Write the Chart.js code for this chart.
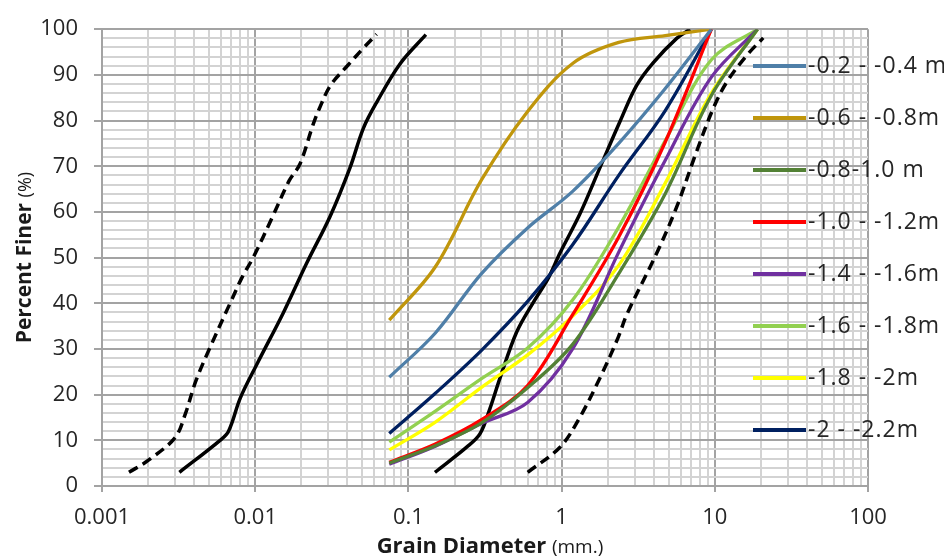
<!DOCTYPE html>
<html>
<head>
<meta charset="utf-8">
<script src="https://cdn.jsdelivr.net/npm/chart.js@4.4.1/dist/chart.umd.min.js"></script>
<style>
    html, body { margin: 0; padding: 0; background: #fff; }
</style>
</head>
<body>
<canvas id="grading" width="944" height="558"></canvas>
<script>
// sieve openings (mm) used by the coloured grading curves
const sieveSizes = [0.075, 0.15, 0.3, 0.6, 1.18, 2.36, 4.75, 9.5, 19];

// percent finer per depth at each sieve
const p02 = [23.8, 33.5, 46.5, 56.5, 64.5, 75, 87, 100];
const p06 = [36.3, 48, 67, 82, 92.5, 97.1, 98.6, 100];
const p08 = [5, 8.8, 13.8, 21.5, 31, 46.5, 64, 85.5, 100];
const p10 = [5.2, 9.2, 14.5, 22, 37.5, 54.5, 75.3, 100];
const p14 = [4.75, 8.7, 13.7, 18.3, 30, 51.2, 71.3, 89.5, 100];
const p16 = [9.6, 16.4, 23.5, 30.2, 40.7, 56.7, 75.6, 93.3, 100];
const p18 = [7.9, 14, 21.6, 28.7, 37.2, 48.3, 66.3, 86, 100];
const p20 = [11.5, 20.3, 29.7, 40.4, 52.8, 68, 82.2, 100];

// black limit curves (diameter mm, percent finer)
const dFineDash  = [0.0015, 0.002, 0.003, 0.0035, 0.0041, 0.0051, 0.0069, 0.0083, 0.0097, 0.013, 0.0167, 0.0196, 0.0238, 0.0262, 0.031, 0.040, 0.050, 0.062];
const pFineDash  = [3, 5.6, 10.6, 15.8, 23, 30.5, 40.2, 46, 50, 59, 66.9, 70.5, 79, 82.6, 87.7, 92, 95.6, 98.9];
const dFineSolid = [0.0032, 0.0059, 0.0067, 0.008, 0.0102, 0.0153, 0.0217, 0.0308, 0.0416, 0.0508, 0.0621, 0.0881, 0.13];
const pFineSolid = [3, 10, 12, 19.3, 26.5, 38, 48.8, 59, 69.7, 78.3, 84, 92.4, 98.8];
const dMidSolid  = [0.149, 0.24, 0.293, 0.341, 0.396, 0.509, 0.654, 0.819, 0.976, 1.318, 1.78, 2.405, 3.09, 3.97, 5.64, 6.9];
const pMidSolid  = [3, 8.5, 11.4, 17, 23.6, 33.7, 40.2, 45.5, 51, 59.6, 69.7, 79.8, 87.7, 92.7, 98, 100];
const dCoarseDash = [0.601, 0.976, 1.29, 1.8, 2.345, 2.66, 4.18, 5.64, 7.62, 9.78, 11.96, 16.1, 20.7];
const pCoarseDash = [3, 8.5, 14.5, 24, 32.6, 37.5, 51, 61.1, 73.3, 82.7, 88.4, 94.2, 98.1];

const depthLabels = ["-0.2 - -0.4 m", "-0.6 - -0.8m", "-0.8-1.0 m", "-1.0 - -1.2m",
                     "-1.4 - -1.6m", "-1.6 - -1.8m", "-1.8 - -2m", "-2 - -2.2m"];
const depthColors = ["#4f7fa8", "#c0960c", "#538135", "#ff0000",
                     "#7030a0", "#92d050", "#ffff00", "#002060"];
const depthP = [p02, p06, p08, p10, p14, p16, p18, p20];

const xDecades = [0.001, 0.01, 0.1, 1, 10, 100];
const xTickLabels = ["0.001", "0.01", "0.1", "1", "10", "100"];
const yMajorTicks = [0, 10, 20, 30, 40, 50, 60, 70, 80, 90, 100];

const FONT = "'Open Sans', 'DejaVu Sans', sans-serif";
const MAJOR_GRID = "#a3a3a3";
const MINOR_GRID = "#d3d3d3";

function toPoints(ds, ps)
{
    return ps.map(function(p, i) { return {x: ds[i], y: p}; });
}

function isDecade(v)
{
    return xDecades.some(function(d) { return Math.abs(d - v) / d < 1e-6; });
}

let datasets = [];
depthLabels.forEach(function(label, i) {
    datasets.push({
        label: label,
        data: toPoints(sieveSizes, depthP[i]),
        borderColor: depthColors[i],
        borderWidth: 3.3,
        tension: 0.35,
        inLegend: true
    });
});
[[dFineDash, pFineDash, true], [dFineSolid, pFineSolid, false],
 [dMidSolid, pMidSolid, false], [dCoarseDash, pCoarseDash, true]].forEach(function(s, i) {
    datasets.push({
        label: "envelope" + i,
        data: toPoints(s[0], s[1]),
        borderColor: "#000000",
        borderWidth: 3.5,
        borderDash: s[2] ? [10, 6] : [],
        tension: 0.35,
        inLegend: false
    });
});

// legend and axis titles drawn by hand so they sit where the original has them
const decorations = {
    id: "decorations",
    afterDraw(chart)
    {
        let ctx = chart.ctx;
        ctx.save();

        let legendItems = chart.data.datasets.filter(function(d) { return d.inLegend; });
        legendItems.forEach(function(d, i) {
            let y = 66 + i * 52;
            ctx.strokeStyle = d.borderColor;
            ctx.lineWidth = 4;
            ctx.beginPath();
            ctx.moveTo(753, y);
            ctx.lineTo(806, y);
            ctx.stroke();
            ctx.fillStyle = "#262626";
            ctx.font = "23px " + FONT;
            ctx.letterSpacing = "1px";
            ctx.textAlign = "left";
            ctx.textBaseline = "middle";
            ctx.fillText(d.label, 808, y);
        });
        ctx.letterSpacing = "0px";

        // x title
        ctx.textBaseline = "alphabetic";
        ctx.fillStyle = "#1a1a1a";
        let boldX = "bold 22px " + FONT;
        let thinX = "19px " + FONT;
        ctx.font = boldX;
        let w1 = ctx.measureText("Grain Diameter ").width;
        ctx.font = thinX;
        let w2 = ctx.measureText("(mm.)").width;
        let cx = (chart.chartArea.left + chart.chartArea.right) / 2 + 5;
        let startX = cx - (w1 + w2) / 2;
        ctx.textAlign = "left";
        ctx.font = boldX;
        ctx.fillText("Grain Diameter ", startX, 553);
        ctx.font = thinX;
        ctx.fillText("(mm.)", startX + w1, 553);

        // y title
        ctx.save();
        ctx.translate(31, (chart.chartArea.top + chart.chartArea.bottom) / 2);
        ctx.rotate(-Math.PI / 2);
        ctx.font = "bold 21px " + FONT;
        let v1 = ctx.measureText("Percent Finer ").width;
        ctx.font = "18px " + FONT;
        let v2 = ctx.measureText("(%)").width;
        ctx.font = "bold 21px " + FONT;
        ctx.fillText("Percent Finer ", -(v1 + v2) / 2, 0);
        ctx.font = "18px " + FONT;
        ctx.fillText("(%)", -(v1 + v2) / 2 + v1, 0);
        ctx.restore();

        ctx.restore();
    }
};

new Chart(document.getElementById("grading").getContext("2d"), {
    type: "line",
    data: { datasets: datasets },
    options: {
        responsive: false,
        animation: false,
        devicePixelRatio: 1,
        layout: { padding: { top: 23, right: 76, left: 0, bottom: 0 } },
        elements: {
            line: { fill: false, borderCapStyle: "butt" },
            point: { radius: 0, hoverRadius: 0 }
        },
        plugins: {
            legend: { display: false },
            tooltip: { enabled: false },
            title: { display: false }
        },
        scales: {
            x: {
                type: "logarithmic",
                min: 0.001,
                max: 100,
                afterBuildTicks: function(axis) {
                    let ticks = [];
                    for (let e = -3; e <= 1; e++)
                    {
                        for (let m = 1; m <= 9; m++)
                        {
                            ticks.push({value: parseFloat((m * Math.pow(10, e)).toPrecision(3))});
                        }
                    }
                    ticks.push({value: 100});
                    axis.ticks = ticks;
                },
                afterFit: function(axis) { axis.height = 72; },
                border: { display: true, color: MAJOR_GRID, width: 2 },
                grid: {
                    color: function(c) { return isDecade(c.tick.value) ? MAJOR_GRID : MINOR_GRID; },
                    tickColor: function(c) { return isDecade(c.tick.value) ? MAJOR_GRID : "rgba(0,0,0,0)"; },
                    lineWidth: 2,
                    tickLength: 6
                },
                ticks: {
                    autoSkip: false,
                    maxRotation: 0,
                    padding: 13,
                    color: "#262626",
                    font: { family: FONT, size: 22 },
                    callback: function(value) {
                        let i = xDecades.findIndex(function(d) { return Math.abs(d - value) / d < 1e-6; });
                        return i >= 0 ? xTickLabels[i] : "";
                    }
                }
            },
            y: {
                type: "linear",
                min: 0,
                max: 100,
                afterBuildTicks: function(axis) {
                    let ticks = [];
                    for (let v = 0; v <= 100; v += 2) ticks.push({value: v});
                    axis.ticks = ticks;
                },
                afterFit: function(axis) { axis.width = 102; },
                border: { display: true, color: MAJOR_GRID, width: 2 },
                grid: {
                    color: function(c) { return yMajorTicks.includes(c.tick.value) ? MAJOR_GRID : MINOR_GRID; },
                    tickColor: function(c) { return yMajorTicks.includes(c.tick.value) ? MAJOR_GRID : "rgba(0,0,0,0)"; },
                    lineWidth: 2,
                    tickLength: 8
                },
                ticks: {
                    autoSkip: false,
                    padding: 16,
                    color: "#262626",
                    font: { family: FONT, size: 22 },
                    callback: function(value) {
                        return yMajorTicks.includes(value) ? String(value) : "";
                    }
                }
            }
        }
    },
    plugins: [decorations]
});
</script>
</body>
</html>
